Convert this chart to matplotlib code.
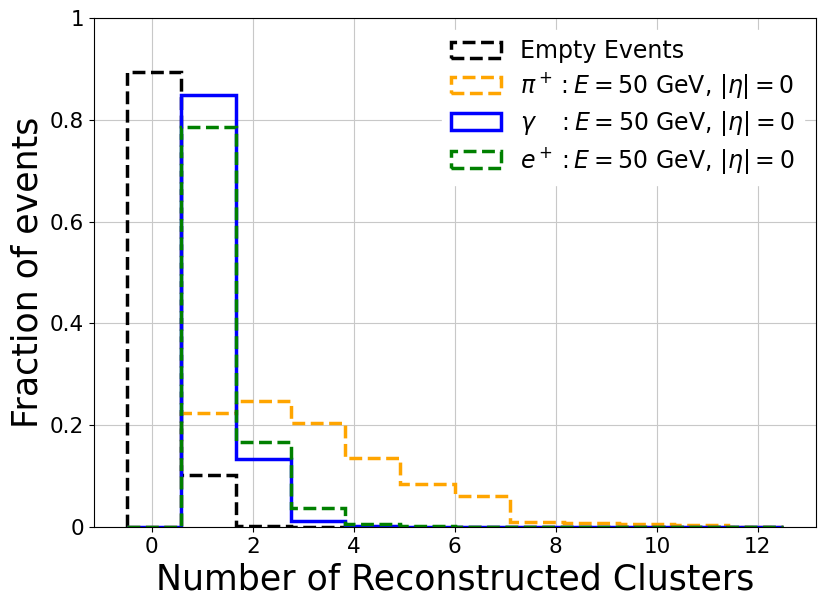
import numpy as np
import matplotlib.pyplot as plt

# histogram binning: 12 bins over [-0.5, 12.5]
edges = np.linspace(-0.5, 12.5, 13)
centers = 0.5 * (edges[:-1] + edges[1:])

empty_frac = [0.894, 0.103, 0.001, 0, 0, 0, 0, 0, 0, 0, 0, 0]
pion_frac = [0.0, 0.223, 0.248, 0.204, 0.136, 0.084, 0.060, 0.010, 0.0085, 0.005, 0.004, 0.0]
gamma_frac = [0.0, 0.849, 0.134, 0.011, 0.001, 0.0, 0.0, 0.0, 0.0, 0.0, 0.0, 0.0]
positron_frac = [0.0, 0.786, 0.166, 0.038, 0.005, 0.002, 0.0, 0.0, 0.0, 0.0, 0.0, 0.0]

labels = ['Empty Events',
          r'$\pi^+: E = 50$ GeV, $|\eta| = 0$',
          r'$\gamma\quad: E = 50$ GeV, $|\eta| = 0$',
          r'$e^+: E = 50$ GeV, $|\eta| = 0$']

fig = plt.figure(figsize=(8.3, 6.05), dpi=100)
ax = fig.add_axes([0.113, 0.129, 0.870, 0.841])

ax.hist(centers, bins=edges, weights=empty_frac, histtype='step',
        color='black', linestyle='--', linewidth=2.5, label=labels[0])
ax.hist(centers, bins=edges, weights=pion_frac, histtype='step',
        color='orange', linestyle='--', linewidth=2.5, label=labels[1])
ax.hist(centers, bins=edges, weights=gamma_frac, histtype='step',
        color='blue', linestyle='-', linewidth=2.5, label=labels[2])
ax.hist(centers, bins=edges, weights=positron_frac, histtype='step',
        color='green', linestyle='--', linewidth=2.5, label=labels[3])

ax.set_ylim(0, 1)
ax.set_yticks([0, 0.2, 0.4, 0.6, 0.8, 1])
ax.set_yticklabels(['0', '0.2', '0.4', '0.6', '0.8', '1'])
ax.set_xticks([0, 2, 4, 6, 8, 10, 12])
ax.tick_params(labelsize=15.5)
ax.grid(True, color='#c8c8c8')
ax.set_axisbelow(True)

ax.set_xlabel('Number of Reconstructed Clusters', fontsize=25)
ax.set_ylabel('Fraction of events', fontsize=25)

leg = ax.legend(fontsize=17, framealpha=1, edgecolor='white', loc='upper right',
                labelspacing=0.3, handlelength=2.1)

plt.savefig('out.png', dpi=100)
